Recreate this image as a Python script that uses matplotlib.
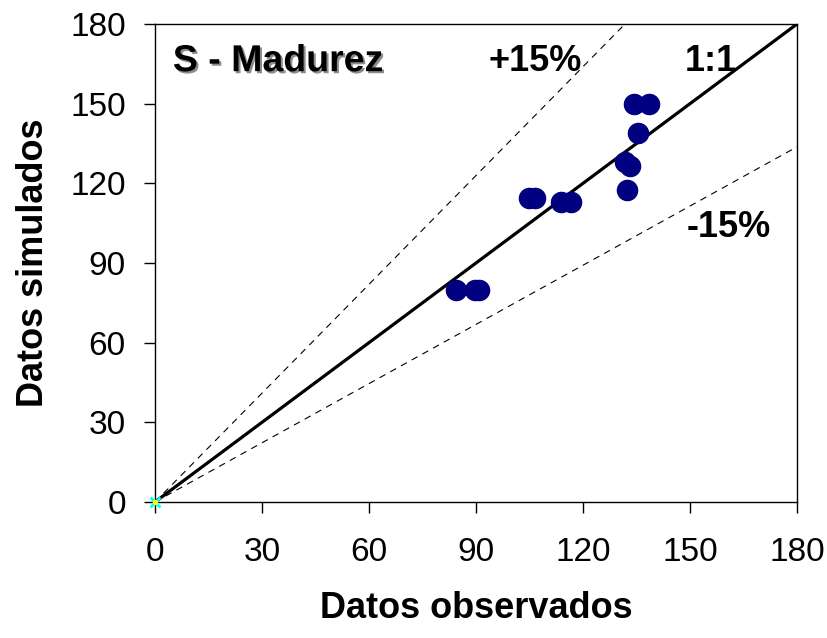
import numpy as np
import matplotlib.pyplot as plt
import matplotlib.patheffects as pe

plt.rcParams['font.family'] = ['Liberation Sans', 'DejaVu Sans']

obs = [134.3, 138.5, 135.5, 131.8, 133.2, 132.2, 104.9, 106.5, 113.7, 116.5, 84.4, 89.7, 90.8]
sim = [149.8, 149.8, 138.8, 128.1, 126.5, 117.5, 114.3, 114.3, 112.8, 112.8, 79.8, 79.8, 79.8]

upper_slope = 1.366
lower_slope = 0.743
ticks = [0, 30, 60, 90, 120, 150, 180]

fig = plt.figure(figsize=(8.28, 6.38), dpi=100)
ax = fig.add_axes([0.1872, 0.2132, 0.7754, 0.7492])

line_x = np.array([0, 180])
ax.plot(line_x, line_x, color='black', lw=2.3, zorder=2)
ax.plot(line_x, upper_slope * line_x, color='black', lw=0.8, ls=(0, (6, 5)), zorder=2)
ax.plot(line_x, lower_slope * line_x, color='black', lw=0.8, ls=(0, (6, 5)), zorder=2)

ax.plot(obs, sim, 'o', color='#000080', markersize=14.5, zorder=3)
ax.plot([0], [0], 'x', color='cyan', markersize=7, mew=2, clip_on=False, zorder=4)
ax.plot([0], [0], 'o', color='yellow', markersize=3, clip_on=False, zorder=5)

ax.set_xlim(0, 180)
ax.set_ylim(0, 180)
ax.set_xticks(ticks)
ax.set_yticks(ticks)
ax.tick_params(direction='out', length=8, width=1, labelsize=24)
ax.tick_params(axis='x', pad=17)
ax.tick_params(axis='y', pad=13)
for s in ax.spines.values():
    s.set_linewidth(1)

ax.set_xlabel('Datos observados', fontsize=26, fontweight='bold', labelpad=17)
ax.set_ylabel('Datos simulados', fontsize=26, fontweight='bold', labelpad=14)

ax.text(5, 166, 'S - Madurez', fontsize=27, fontweight='bold', va='center',
        path_effects=[pe.SimplePatchShadow(offset=(1.5, -1.5), shadow_rgbFace='0.55', alpha=1), pe.Normal()])
ax.text(93.4, 165.7, '+15%', fontsize=26, fontweight='bold', va='center')
ax.text(148.6, 165.7, '1:1', fontsize=26, fontweight='bold', va='center')
ax.text(149.1, 103.2, '-15%', fontsize=26, fontweight='bold', va='center')

fig.savefig('out.png', dpi=100)
